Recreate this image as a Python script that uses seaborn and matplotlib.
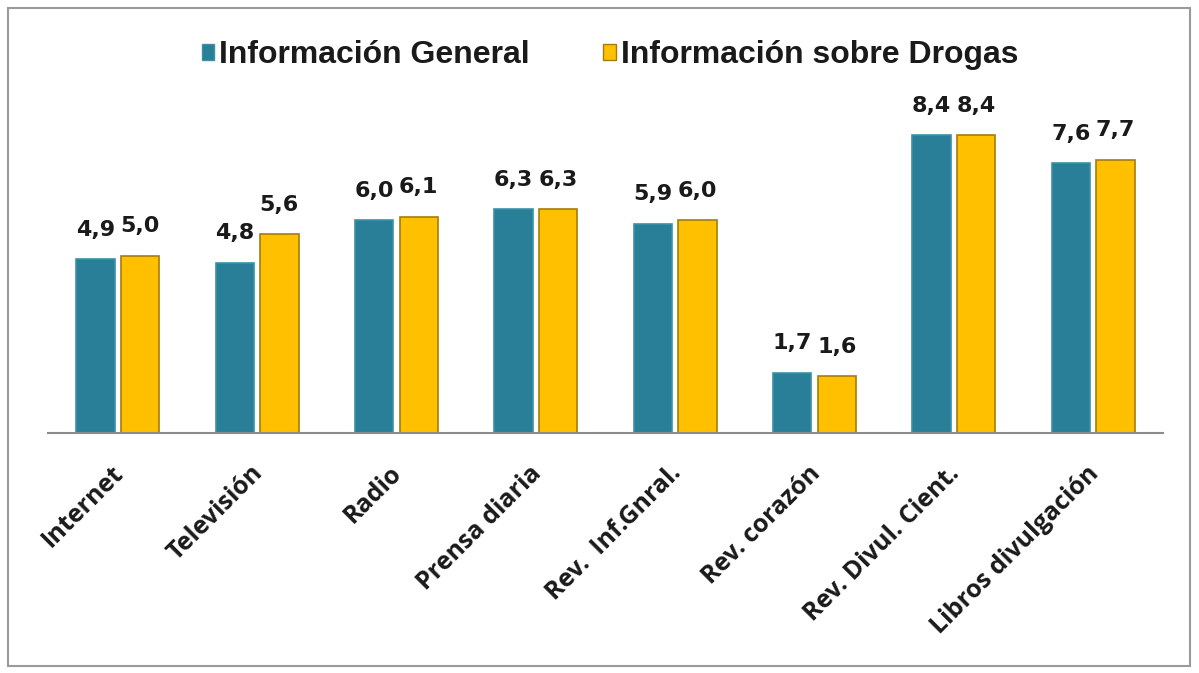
import matplotlib
matplotlib.use("Agg")
import matplotlib.pyplot as plt
import seaborn as sns
import pandas as pd
from matplotlib.patches import Rectangle
from matplotlib.transforms import ScaledTranslation

categories = ["Internet", "Televisión", "Radio", "Prensa diaria", "Rev.  Inf.Gnral.",
              "Rev. corazón", "Rev. Divul. Cient.", "Libros divulgación"]
general = [4.9, 4.8, 6.0, 6.3, 5.9, 1.7, 8.4, 7.6]
drogas = [5.0, 5.6, 6.1, 6.3, 6.0, 1.6, 8.4, 7.7]
series_names = ["Información General", "Información sobre Drogas"]

df = pd.DataFrame({
    "cat": categories * 2,
    "val": general + drogas,
    "serie": [series_names[0]] * len(categories) + [series_names[1]] * len(categories),
})

sns.set_theme(style="white")
plt.rcParams['font.family'] = ['Open Sans', 'DejaVu Sans']

fig = plt.figure(figsize=(11.99, 6.73), dpi=100)
ax = fig.add_axes([48 / 1199, 0.3566, 1115 / 1199, 0.5008])

colors = {series_names[0]: "#2A7F98", series_names[1]: "#FFC000"}
edges = ["#3C91AA", "#A67C0A"]
sns.barplot(data=df, x="cat", y="val", hue="serie", palette=colors, order=categories,
            hue_order=series_names, width=0.64, gap=0.14, saturation=1, ax=ax, legend=False)

for i, cont in enumerate(ax.containers):
    for p in cont.patches:
        p.set_edgecolor(edges[i])
        p.set_linewidth(1.2)
    ax.bar_label(cont, labels=[f"{v:.1f}".replace(".", ",") for v in cont.datavalues],
                 padding=14, fontsize=16, fontweight="bold", color="#1a1a1a",
                 family="DejaVu Sans")

ax.set_ylim(0, 9.5)
ax.set_xlim(-0.5, len(categories) - 0.5)
ax.set_xlabel("")
ax.set_ylabel("")
ax.set_yticks([])
for s in ["top", "left", "right"]:
    ax.spines[s].set_visible(False)
ax.spines["bottom"].set_color("#8c8c8c")
ax.spines["bottom"].set_linewidth(1.5)
ax.tick_params(axis="x", length=0, pad=20)
shift = ScaledTranslation(-7 / 100, 0, fig.dpi_scale_trans)
for lbl in ax.get_xticklabels():
    lbl.set_rotation(45)
    lbl.set_ha("right")
    lbl.set_rotation_mode("anchor")
    lbl.set_fontsize(18)
    lbl.set_fontweight("bold")
    lbl.set_color("#1a1a1a")
    lbl.set_transform(lbl.get_transform() + shift)

handles = [Rectangle((0, 0), 1, 1, facecolor=colors[n], edgecolor=edges[i])
           for i, n in enumerate(series_names)]
leg = fig.legend(handles, series_names, loc="center", bbox_to_anchor=(610 / 1199, 1 - 55 / 673),
                 ncol=2, frameon=False, handlelength=0.4, handleheight=0.4, handletextpad=0.15,
                 columnspacing=2.3, prop={"family": "Liberation Sans", "weight": "bold", "size": 23})
for t in leg.get_texts():
    t.set_color("#1a1a1a")

fig.patches.append(Rectangle((8 / 1199, 1 - 666 / 673), 1182 / 1199, 658 / 673,
                             transform=fig.transFigure, fill=False,
                             edgecolor="#9a9a9a", linewidth=1.5))

fig.savefig("out.png", dpi=100)
